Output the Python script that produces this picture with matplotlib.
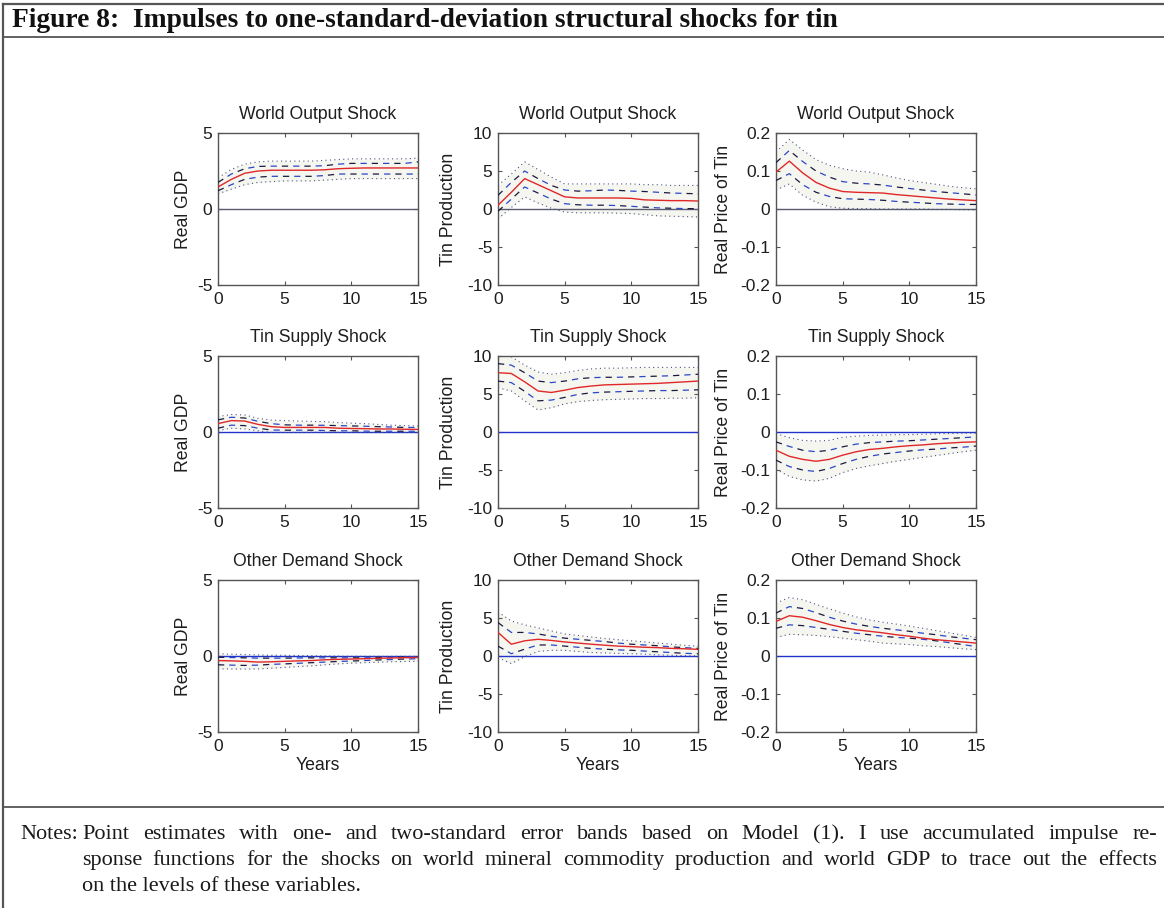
import matplotlib
matplotlib.use("Agg")
import matplotlib.pyplot as plt
from matplotlib.lines import Line2D

# ---------------- data ----------------
years = list(range(16))
shock_titles = ["World Output Shock", "Tin Supply Shock", "Other Demand Shock"]
var_labels = ["Real GDP", "Tin Production", "Real Price of Tin"]
x_ticks = [0, 5, 10, 15]
x_ticklabels = ["0", "5", "10", "15"]
y_ticks_gdp = [-5, 0, 5]
y_ticklabels_gdp = ["-5", "0", "5"]
y_ticks_prod = [-10, -5, 0, 5, 10]
y_ticklabels_prod = ["-10", "-5", "0", "5", "10"]
y_ticks_price = [-0.2, -0.1, 0, 0.1, 0.2]
y_ticklabels_price = ["-0.2", "-0.1", "0", "0.1", "0.2"]
header = "Figure 8:  Impulses to one-standard-deviation structural shocks for tin"
notes_label = "Notes:"
notes_lines = [
    "Point estimates with one- and two-standard error bands based on Model (1). I use accumulated impulse re-",
    "sponse functions for the shocks on world mineral commodity production and world GDP to trace out the effects",
    "on the levels of these variables.",
]

# World output shock
gdp_wo_est = [1.45, 1.95, 2.35, 2.5, 2.55, 2.55, 2.55, 2.55, 2.58, 2.65, 2.68, 2.7, 2.7, 2.7, 2.7, 2.7]
gdp_wo_up1 = [1.75, 2.3, 2.65, 2.8, 2.82, 2.82, 2.82, 2.82, 2.85, 2.95, 3.0, 3.0, 3.0, 3.0, 3.0, 3.1]
gdp_wo_lo1 = [1.2, 1.6, 1.95, 2.1, 2.15, 2.15, 2.15, 2.15, 2.2, 2.3, 2.3, 2.3, 2.3, 2.3, 2.3, 2.3]
gdp_wo_up2 = [2.05, 2.6, 2.95, 3.1, 3.15, 3.15, 3.15, 3.15, 3.2, 3.25, 3.3, 3.3, 3.3, 3.3, 3.3, 3.35]
gdp_wo_lo2 = [1.0, 1.3, 1.6, 1.75, 1.8, 1.85, 1.85, 1.85, 1.9, 1.95, 2.0, 2.0, 2.0, 2.0, 2.0, 2.0]

prod_wo_est = [0.5, 2.2, 4.0, 3.2, 2.4, 1.6, 1.45, 1.45, 1.45, 1.45, 1.4, 1.2, 1.15, 1.1, 1.1, 1.05]
prod_wo_up1 = [1.8, 3.5, 5.0, 4.0, 3.1, 2.5, 2.35, 2.4, 2.5, 2.45, 2.35, 2.3, 2.2, 2.1, 2.05, 2.0]
prod_wo_lo1 = [-0.3, 1.3, 2.9, 2.1, 1.3, 0.7, 0.55, 0.5, 0.5, 0.45, 0.35, 0.25, 0.15, 0.1, 0.05, 0.05]
prod_wo_up2 = [3.1, 4.6, 6.2, 5.2, 4.2, 3.3, 3.3, 3.3, 3.3, 3.3, 3.3, 3.2, 3.2, 3.1, 3.1, 3.1]
prod_wo_lo2 = [-1.3, 0.2, 1.6, 0.8, 0.1, -0.4, -0.5, -0.5, -0.5, -0.55, -0.6, -0.75, -0.9, -0.95, -1.0, -1.05]

price_wo_est = [0.097, 0.126, 0.095, 0.07, 0.055, 0.046, 0.044, 0.043, 0.042, 0.038, 0.035, 0.032, 0.029, 0.026, 0.024, 0.022]
price_wo_up1 = [0.122, 0.154, 0.125, 0.1, 0.084, 0.072, 0.068, 0.066, 0.063, 0.058, 0.054, 0.05, 0.046, 0.043, 0.04, 0.037]
price_wo_lo1 = [0.075, 0.093, 0.064, 0.044, 0.033, 0.027, 0.026, 0.025, 0.023, 0.02, 0.018, 0.016, 0.014, 0.013, 0.012, 0.012]
price_wo_up2 = [0.15, 0.183, 0.155, 0.13, 0.115, 0.106, 0.1, 0.097, 0.09, 0.082, 0.075, 0.07, 0.065, 0.06, 0.056, 0.053]
price_wo_lo2 = [0.05, 0.066, 0.036, 0.018, 0.006, 0.002, 0.001, 0.001, 0.0, 0.0, 0.0, 0.0, -0.001, -0.001, -0.002, -0.002]

# Tin supply shock
gdp_ts_est = [0.55, 0.75, 0.72, 0.5, 0.35, 0.3, 0.3, 0.3, 0.3, 0.25, 0.23, 0.22, 0.2, 0.2, 0.18, 0.17]
gdp_ts_up1 = [0.8, 0.97, 0.92, 0.7, 0.55, 0.47, 0.45, 0.45, 0.44, 0.42, 0.4, 0.38, 0.35, 0.33, 0.3, 0.3]
gdp_ts_lo1 = [0.25, 0.45, 0.42, 0.25, 0.13, 0.12, 0.12, 0.12, 0.1, 0.08, 0.08, 0.06, 0.05, 0.05, 0.05, 0.05]
gdp_ts_up2 = [1.02, 1.15, 1.12, 0.9, 0.78, 0.75, 0.72, 0.7, 0.68, 0.62, 0.58, 0.55, 0.5, 0.45, 0.42, 0.4]
gdp_ts_lo2 = [0.1, 0.25, 0.2, 0.08, -0.03, -0.03, -0.03, -0.02, -0.01, -0.02, -0.02, -0.03, -0.03, -0.03, -0.03, -0.03]

prod_ts_est = [7.8, 7.7, 6.6, 5.4, 5.2, 5.5, 5.85, 6.05, 6.2, 6.25, 6.3, 6.35, 6.4, 6.5, 6.6, 6.7]
prod_ts_up1 = [9.0, 8.8, 7.8, 6.7, 6.5, 6.7, 7.0, 7.15, 7.2, 7.2, 7.25, 7.3, 7.35, 7.4, 7.5, 7.6]
prod_ts_lo1 = [6.7, 6.5, 5.35, 4.1, 4.2, 4.55, 4.95, 5.15, 5.25, 5.3, 5.35, 5.4, 5.45, 5.45, 5.5, 5.55]
prod_ts_up2 = [10.2, 9.9, 8.8, 7.9, 7.6, 7.8, 8.1, 8.3, 8.4, 8.4, 8.45, 8.5, 8.5, 8.5, 8.5, 8.5]
prod_ts_lo2 = [5.8, 5.4, 4.1, 2.9, 3.2, 3.7, 4.0, 4.15, 4.25, 4.3, 4.35, 4.4, 4.4, 4.45, 4.45, 4.5]

price_ts_est = [-0.048, -0.064, -0.072, -0.077, -0.072, -0.061, -0.052, -0.046, -0.043, -0.039, -0.036, -0.034, -0.031, -0.029, -0.027, -0.026]
price_ts_up1 = [-0.026, -0.038, -0.048, -0.052, -0.048, -0.039, -0.032, -0.028, -0.026, -0.024, -0.023, -0.021, -0.019, -0.017, -0.015, -0.013]
price_ts_lo1 = [-0.074, -0.091, -0.1, -0.104, -0.096, -0.083, -0.072, -0.064, -0.058, -0.054, -0.05, -0.047, -0.045, -0.042, -0.04, -0.037]
price_ts_up2 = [-0.004, -0.015, -0.022, -0.024, -0.022, -0.014, -0.011, -0.009, -0.008, -0.007, -0.007, -0.006, -0.005, -0.004, -0.003, -0.003]
price_ts_lo2 = [-0.098, -0.117, -0.126, -0.129, -0.122, -0.107, -0.096, -0.089, -0.083, -0.077, -0.072, -0.067, -0.062, -0.057, -0.052, -0.048]

# Other demand shock
gdp_od_est = [-0.3, -0.32, -0.35, -0.4, -0.38, -0.35, -0.32, -0.3, -0.25, -0.22, -0.2, -0.18, -0.15, -0.13, -0.11, -0.1]
gdp_od_up1 = [-0.08, -0.1, -0.12, -0.14, -0.14, -0.14, -0.13, -0.12, -0.12, -0.12, -0.12, -0.12, -0.1, -0.1, -0.08, -0.05]
gdp_od_lo1 = [-0.58, -0.6, -0.62, -0.6, -0.55, -0.52, -0.48, -0.44, -0.4, -0.36, -0.33, -0.3, -0.26, -0.23, -0.2, -0.18]
gdp_od_up2 = [0.15, 0.12, 0.1, 0.07, 0.05, 0.05, 0.03, 0.02, 0.0, -0.01, -0.02, -0.02, -0.02, -0.02, -0.02, -0.02]
gdp_od_lo2 = [-0.85, -0.85, -0.86, -0.85, -0.8, -0.75, -0.7, -0.65, -0.58, -0.52, -0.47, -0.44, -0.41, -0.38, -0.36, -0.35]

prod_od_est = [3.1, 1.55, 2.0, 2.2, 2.05, 1.85, 1.7, 1.55, 1.42, 1.3, 1.23, 1.15, 1.1, 1.0, 0.95, 0.88]
prod_od_up1 = [4.4, 3.1, 3.1, 2.9, 2.6, 2.35, 2.2, 2.05, 1.9, 1.7, 1.55, 1.45, 1.35, 1.2, 1.1, 1.0]
prod_od_lo1 = [1.3, 0.3, 0.9, 1.45, 1.45, 1.3, 1.15, 1.0, 0.9, 0.8, 0.75, 0.65, 0.55, 0.45, 0.35, 0.3]
prod_od_up2 = [5.8, 4.6, 4.1, 3.7, 3.3, 2.9, 2.7, 2.5, 2.3, 2.15, 2.0, 1.85, 1.7, 1.55, 1.4, 1.3]
prod_od_lo2 = [-0.2, -1.0, -0.1, 0.6, 0.75, 0.75, 0.6, 0.45, 0.4, 0.35, 0.3, 0.25, 0.15, 0.1, 0.05, 0.0]

price_od_est = [0.091, 0.106, 0.102, 0.093, 0.083, 0.075, 0.069, 0.065, 0.061, 0.056, 0.052, 0.047, 0.043, 0.04, 0.037, 0.034]
price_od_up1 = [0.113, 0.13, 0.125, 0.114, 0.102, 0.092, 0.084, 0.078, 0.073, 0.069, 0.065, 0.06, 0.056, 0.051, 0.047, 0.043]
price_od_lo1 = [0.073, 0.082, 0.08, 0.075, 0.07, 0.065, 0.06, 0.056, 0.052, 0.049, 0.047, 0.044, 0.04, 0.035, 0.03, 0.025]
price_od_up2 = [0.139, 0.154, 0.148, 0.136, 0.124, 0.113, 0.103, 0.095, 0.089, 0.084, 0.079, 0.073, 0.067, 0.061, 0.055, 0.049]
price_od_lo2 = [0.049, 0.057, 0.056, 0.054, 0.051, 0.047, 0.043, 0.039, 0.034, 0.032, 0.03, 0.027, 0.025, 0.022, 0.019, 0.017]

panels = [
    [(gdp_wo_est, gdp_wo_up1, gdp_wo_lo1, gdp_wo_up2, gdp_wo_lo2),
     (prod_wo_est, prod_wo_up1, prod_wo_lo1, prod_wo_up2, prod_wo_lo2),
     (price_wo_est, price_wo_up1, price_wo_lo1, price_wo_up2, price_wo_lo2)],
    [(gdp_ts_est, gdp_ts_up1, gdp_ts_lo1, gdp_ts_up2, gdp_ts_lo2),
     (prod_ts_est, prod_ts_up1, prod_ts_lo1, prod_ts_up2, prod_ts_lo2),
     (price_ts_est, price_ts_up1, price_ts_lo1, price_ts_up2, price_ts_lo2)],
    [(gdp_od_est, gdp_od_up1, gdp_od_lo1, gdp_od_up2, gdp_od_lo2),
     (prod_od_est, prod_od_up1, prod_od_lo1, prod_od_up2, prod_od_lo2),
     (price_od_est, price_od_up1, price_od_lo1, price_od_up2, price_od_lo2)],
]
y_ticks = [y_ticks_gdp, y_ticks_prod, y_ticks_price]
y_ticklabels = [y_ticklabels_gdp, y_ticklabels_prod, y_ticklabels_price]

# ---------------- figure ----------------
W, H = 1164, 908
fig = plt.figure(figsize=(W / 100, H / 100), dpi=100)
fig.patch.set_facecolor("white")
sans = ["Liberation Sans", "DejaVu Sans"]
serif = ["Liberation Serif", "DejaVu Serif"]
txt_col = "#1e1e1e"
fs = 12.7
fs_tick = 12.5

col_left = [218, 498, 776]
row_top = [133, 356, 580]
ax_w, ax_h = 200, 152
ylabel_right = [192, 457, 732]
zero_colors = ["#5a5a70", "#2233cc", "#2233cc"]

for r in range(3):
    for c in range(3):
        est, up1, lo1, up2, lo2 = panels[r][c]
        ax = fig.add_axes([col_left[c] / W, 1 - (row_top[r] + ax_h) / H, ax_w / W, ax_h / H])
        ax.fill_between(years, lo2, up2, color="#f6f6f1", lw=0, zorder=1)
        ax.axhline(0, color=zero_colors[r], lw=1.0, zorder=2)
        for band in (up2, lo2):
            ax.plot(years, band, color="#4a5580", lw=0.8, ls=(0, (1, 3)), zorder=3)
        for band in (up1, lo1):
            ax.plot(years, band, color="#1a1a40", lw=0.9, ls=(0, (5, 13)), zorder=3)
            ax.plot(years, band, color="#2a48c8", lw=0.9, ls=(9, (5, 13)), zorder=3)
        ax.plot(years, est, color="#e02828", lw=1.0, zorder=4)

        ax.set_xlim(0, 15)
        lim = y_ticks[c]
        ax.set_ylim(lim[0], lim[-1])
        ax.set_xticks(x_ticks)
        ax.set_xticklabels(x_ticklabels, fontsize=fs_tick, family=sans, color=txt_col)
        ax.set_yticks(y_ticks[c])
        ax.set_yticklabels(y_ticklabels[c], fontsize=fs_tick, family=sans, color=txt_col)
        ax.tick_params(direction="in", top=True, right=True, length=3, width=0.8,
                       color="#555555")
        ax.tick_params(axis="x", pad=5)
        ax.tick_params(axis="y", pad=4)
        for sp in ax.spines.values():
            sp.set_color("#555555")
            sp.set_linewidth(1.0)
        ax.set_title(shock_titles[r], fontsize=fs, family=sans, color=txt_col, pad=10)
        ax.set_ylabel(var_labels[c], fontsize=fs, family=sans, color=txt_col)
        ax.yaxis.set_label_coords((ylabel_right[c] - col_left[c]) / ax_w, 0.5)
        if r == 2:
            ax.set_xlabel("Years", fontsize=fs, family=sans, color=txt_col, labelpad=2)

# ---------------- frame lines ----------------
frame_col = "#555555"
fig.add_artist(Line2D([3 / W, 3 / W], [1 - 4 / H, 0], transform=fig.transFigure, color=frame_col, lw=1.6))
fig.add_artist(Line2D([3 / W, 1], [1 - 4 / H, 1 - 4 / H], transform=fig.transFigure, color=frame_col, lw=1.6))
fig.add_artist(Line2D([3 / W, 1], [1 - 37 / H, 1 - 37 / H], transform=fig.transFigure, color=frame_col, lw=1.3))
fig.add_artist(Line2D([3 / W, 1], [1 - 807 / H, 1 - 807 / H], transform=fig.transFigure, color=frame_col, lw=1.3))

renderer = fig.canvas.get_renderer()

# header, sized to span the measured width
hx0, hx1 = 12, 838
hsize = 17.0
ht = fig.text(hx0 / W, 1 - 27 / H, header, family=serif, weight="bold", fontsize=hsize,
              color="#111111", ha="left", va="baseline")
for _ in range(3):
    wpx = ht.get_window_extent(renderer).width
    hsize *= (hx1 - hx0) / wpx
    ht.set_fontsize(hsize)

# notes: justified lines, aligned on baselines
nx_label, nx0, nx1 = 20, 82, 1157
ny = [839, 865, 891]
nsize = 16.0
col_n = "#1a1a1a"


def width_of(s, size):
    t = fig.text(0, 0, s, family=serif, fontsize=size)
    w = t.get_window_extent(renderer).width
    t.remove()
    return w


fig.text(nx_label / W, 1 - ny[0] / H, notes_label, family=serif, fontsize=nsize, color=col_n,
         ha="left", va="baseline")
for i, line in enumerate(notes_lines):
    words = line.split(" ")
    y = 1 - ny[i] / H
    if i < len(notes_lines) - 1:
        widths = [width_of(wd, nsize) for wd in words]
        gap = (nx1 - nx0 - sum(widths)) / (len(words) - 1)
        x = nx0
        for wd, wdw in zip(words, widths):
            fig.text(x / W, y, wd, family=serif, fontsize=nsize, color=col_n, ha="left", va="baseline")
            x += wdw + gap
    else:
        fig.text(nx0 / W, y, line, family=serif, fontsize=nsize, color=col_n, ha="left", va="baseline")

fig.savefig("out.png", dpi=100, facecolor="white")
